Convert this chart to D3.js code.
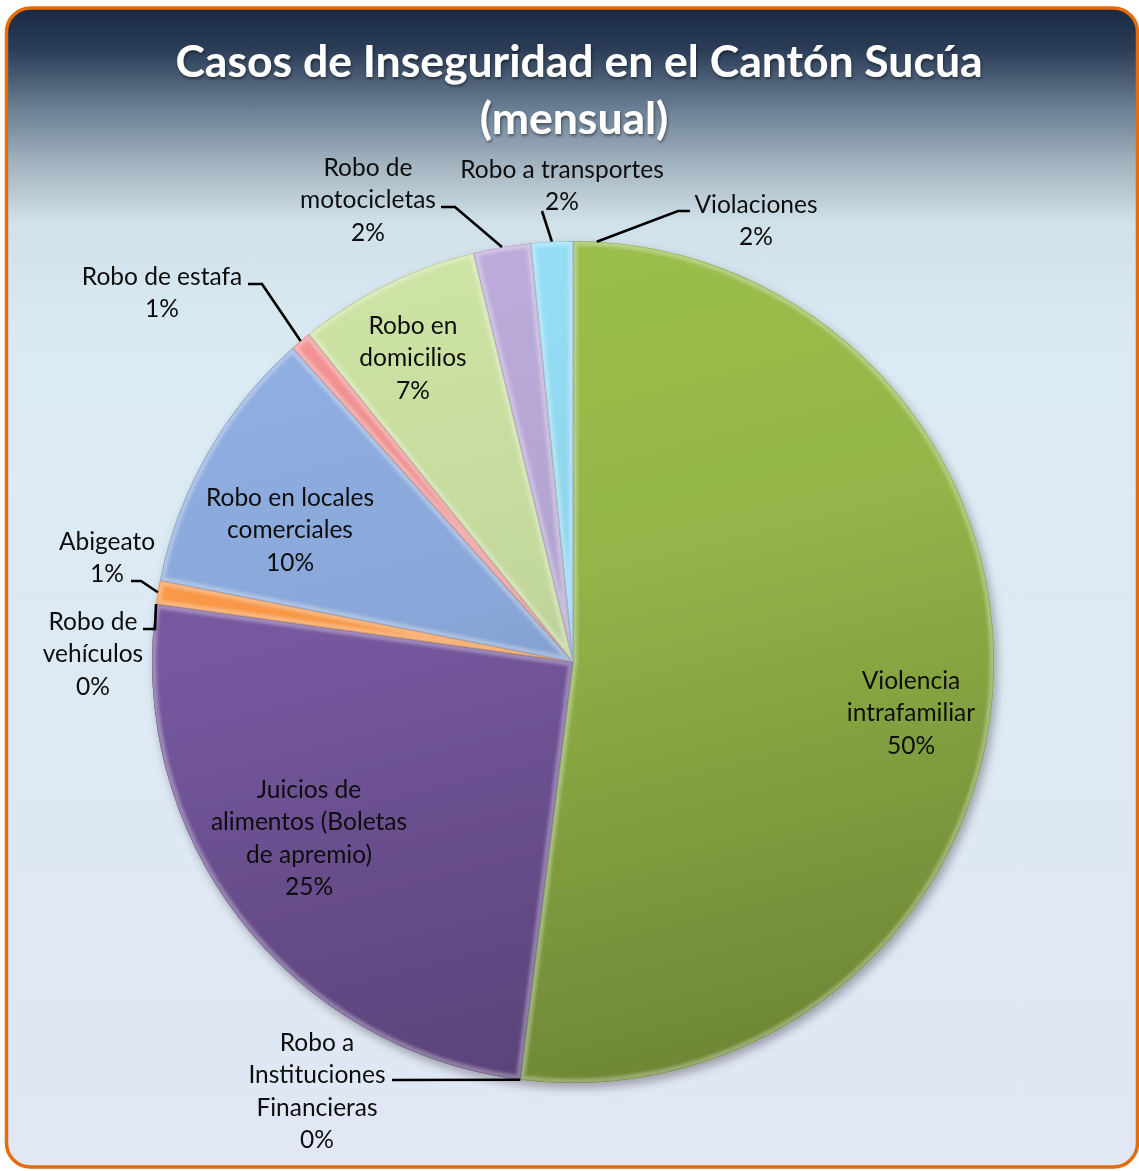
<!DOCTYPE html>
<html>
<head>
<meta charset="utf-8">
<script src="https://cdn.jsdelivr.net/npm/d3@7"></script>
<style>
  html, body { margin: 0; padding: 0; background: #ffffff; }
  svg { display: block; }
</style>
</head>
<body>
<svg id="chart" width="1139" height="1171"></svg>
<script>
// Monthly insecurity cases, Cantón Sucúa (share of total, %)
const categories = [
  "Violaciones",
  "Violencia intrafamiliar",
  "Robo a Instituciones Financieras",
  "Juicios de alimentos (Boletas de apremio)",
  "Robo de vehículos",
  "Abigeato",
  "Robo en locales comerciales",
  "Robo de estafa",
  "Robo en domicilios",
  "Robo de motocicletas",
  "Robo a transportes"
];
const values = [1.8, 50.2, 0, 25.2, 0, 0.9, 10.3, 0.8, 7.0, 2.2, 1.6];

const titleLines = ["Casos de Inseguridad en el Cantón Sucúa", "(mensual)"];

// slice palette
const palette = [
  "#93b548", "#93b548", "#76589f", "#76589f", "#4bacc6", "#f79646",
  "#89a7d8", "#e88c8c", "#c3d89b", "#b3a3d0", "#8ed3ea"
];

// label placement: wrapped name lines, centre x, first-line y, leader start/elbow
const labelLayout = [
  { lines: ["Violaciones"], x: 756, y: 203, leader: [[690, 211], [678, 211]] },
  { lines: ["Violencia", "intrafamiliar"], x: 911, y: 679, leader: null },
  { lines: ["Robo a", "Instituciones", "Financieras"], x: 317, y: 1041, leader: [[392, 1080]] },
  { lines: ["Juicios de", "alimentos (Boletas", "de apremio)"], x: 309, y: 788, leader: null },
  { lines: ["Robo de", "vehículos"], x: 93, y: 620, leader: [[143, 629], [155, 629]] },
  { lines: ["Abigeato"], x: 107, y: 540, leader: [[131, 581], [141, 581]] },
  { lines: ["Robo en locales", "comerciales"], x: 290, y: 496, leader: null },
  { lines: ["Robo de estafa"], x: 162, y: 275, leader: [[248, 284], [262, 284]] },
  { lines: ["Robo en", "domicilios"], x: 413, y: 324, leader: null },
  { lines: ["Robo de", "motocicletas"], x: 368, y: 166, leader: [[441, 207], [455, 207]] },
  { lines: ["Robo a transportes"], x: 562, y: 168, leader: [[542, 211]] }
];

const cx = 573, cy = 662, R = 421;
const lineH = 32.6;

const svg = d3.select("#chart");
const defs = svg.append("defs");

// chart area background
const bg = defs.append("linearGradient").attr("id", "bgGrad")
  .attr("x1", 0).attr("y1", 0).attr("x2", 0).attr("y2", 1);
[[0, "#1a2a44"], [0.035, "#2a3c56"], [0.09, "#6e8398"], [0.135, "#a3b4c0"],
 [0.185, "#d0e1ea"], [0.3, "#dbebf3"], [1, "#e1e7f5"]]
  .forEach(([o, c]) => bg.append("stop").attr("offset", o).attr("stop-color", c));

svg.append("rect")
  .attr("x", 6.5).attr("y", 8).attr("width", 1131).attr("height", 1159)
  .attr("rx", 24).attr("ry", 24)
  .attr("fill", "url(#bgGrad)")
  .attr("stroke", "#e46c0a").attr("stroke-width", 3.5);

// filters
const shadow = defs.append("filter").attr("id", "pieShadow")
  .attr("x", "-10%").attr("y", "-10%").attr("width", "120%").attr("height", "120%");
shadow.append("feDropShadow").attr("dx", 3).attr("dy", 5)
  .attr("stdDeviation", 5).attr("flood-color", "#000").attr("flood-opacity", 0.3);

const soft = defs.append("filter").attr("id", "soft")
  .attr("x", "-5%").attr("y", "-5%").attr("width", "110%").attr("height", "110%");
soft.append("feGaussianBlur").attr("stdDeviation", 1.4);

const titleShadow = defs.append("filter").attr("id", "titleShadow");
titleShadow.append("feDropShadow").attr("dx", 1).attr("dy", 2)
  .attr("stdDeviation", 1.5).attr("flood-color", "#000").attr("flood-opacity", 0.45);

// title
svg.append("g").selectAll("text").data(titleLines).join("text")
  .attr("x", (d, i) => i === 0 ? 579 : 574)
  .attr("y", (d, i) => i === 0 ? 59 : 116)
  .attr("text-anchor", "middle")
  .attr("dominant-baseline", "central")
  .attr("font-family", "Lato, 'Open Sans', sans-serif")
  .attr("font-weight", "bold")
  .attr("font-size", 44.5)
  .attr("fill", "#ffffff")
  .attr("filter", "url(#titleShadow)")
  .text(d => d);

// pie
const pie = d3.pie().sort(null).value(d => d)
  .startAngle(0).endAngle(2 * Math.PI);
const arcs = pie(values);
const arc = d3.arc().innerRadius(0).outerRadius(R);
const total = d3.sum(values);

// shading runs across the whole disc (coordinates relative to the pie centre)
const gradId = c => "grad" + c.replace("#", "");
Array.from(new Set(palette)).forEach(c => {
  const base = d3.color(c);
  const g = defs.append("linearGradient").attr("id", gradId(c))
    .attr("gradientUnits", "userSpaceOnUse")
    .attr("x1", -R * 0.25).attr("y1", -R).attr("x2", R * 0.25).attr("y2", R);
  g.append("stop").attr("offset", 0).attr("stop-color", base.brighter(0.15).formatHex());
  g.append("stop").attr("offset", 0.4).attr("stop-color", base.formatHex());
  g.append("stop").attr("offset", 1).attr("stop-color", base.darker(0.85).formatHex());
});

// slices sharing a colour are shaded and bevelled as one piece
const mergedArcs = [];
arcs.forEach((a, i) => {
  if (a.value <= 0) return;
  const last = mergedArcs[mergedArcs.length - 1];
  if (last && last.color === palette[i] && last.endAngle === a.startAngle) {
    last.endAngle = a.endAngle;
  } else {
    mergedArcs.push({ startAngle: a.startAngle, endAngle: a.endAngle, color: palette[i] });
  }
});
mergedArcs.forEach((b, k) => {
  defs.append("clipPath").attr("id", "clip" + k)
    .append("path").attr("d", arc(b)).attr("transform", `translate(${cx},${cy})`);
});

const pieG = svg.append("g").attr("filter", "url(#pieShadow)");
pieG.selectAll("path.under").data(mergedArcs).join("path")
  .attr("class", "under")
  .attr("transform", `translate(${cx},${cy})`)
  .attr("d", arc)
  .attr("fill", d => `url(#${gradId(d.color)})`);
pieG.selectAll("path.slice").data(arcs).join("path")
  .attr("class", "slice")
  .attr("transform", `translate(${cx},${cy})`)
  .attr("d", arc)
  .attr("fill", (d, i) => `url(#${gradId(palette[i])})`);

// bevel: soft light band inside each edge plus a faint dark seam
const bevel = pieG.selectAll("g.bevel").data(mergedArcs).join("g")
  .attr("class", "bevel")
  .attr("clip-path", (d, k) => `url(#clip${k})`);
bevel.append("path")
  .attr("transform", `translate(${cx},${cy})`)
  .attr("d", arc)
  .attr("fill", "none")
  .attr("stroke", "#ffffff")
  .attr("stroke-opacity", 0.3)
  .attr("stroke-width", 9)
  .attr("stroke-linejoin", "round")
  .attr("filter", "url(#soft)");
bevel.append("path")
  .attr("transform", `translate(${cx},${cy})`)
  .attr("d", arc)
  .attr("fill", "none")
  .attr("stroke", "#000000")
  .attr("stroke-opacity", 0.15)
  .attr("stroke-width", 1.5);

// leader lines
const edgePoint = a => {
  const m = (a.startAngle + a.endAngle) / 2;
  return [cx + R * Math.sin(m), cy - R * Math.cos(m)];
};
const lineGen = d3.line();
svg.append("g").selectAll("path")
  .data(arcs.filter((a, i) => labelLayout[i].leader))
  .join("path")
  .attr("d", a => {
    const i = arcs.indexOf(a);
    return lineGen([...labelLayout[i].leader, edgePoint(a)]);
  })
  .attr("fill", "none")
  .attr("stroke", "#000")
  .attr("stroke-width", 2.6);

// data labels
const fmt = v => Math.round(v / total * 100) + "%";
const labels = svg.append("g")
  .attr("font-family", "Lato, 'Open Sans', sans-serif")
  .attr("font-size", 24.5)
  .attr("fill", "#0d0d0d")
  .attr("text-anchor", "middle");

arcs.forEach((a, i) => {
  const L = labelLayout[i];
  const lines = [...L.lines, fmt(a.value)];
  labels.append("text")
    .selectAll("tspan").data(lines).join("tspan")
    .attr("x", L.x)
    .attr("y", (d, j) => L.y + j * lineH)
    .attr("dominant-baseline", "central")
    .text(d => d);
});
</script>
</body>
</html>
